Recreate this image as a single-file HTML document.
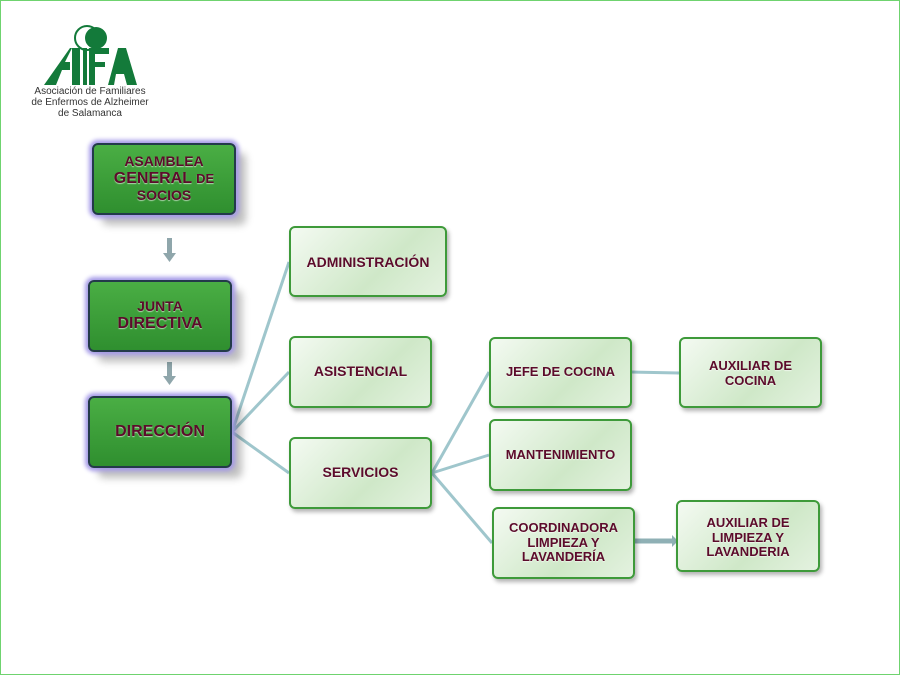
<!DOCTYPE html>
<html><head><meta charset="utf-8"><style>
body{margin:0;width:900px;height:675px;background:#fff;position:relative;overflow:hidden;font-family:"Liberation Sans",sans-serif}
.frame{position:absolute;left:0;top:0;width:898px;height:673px;border:1px solid #6fd36f}
.b{position:absolute;box-sizing:border-box;border-radius:6px;display:flex;align-items:center;justify-content:center;text-align:center;font-weight:bold;color:#5c0b2b;line-height:1.12;text-shadow:0 1px 1px rgba(255,255,255,.6)}
.d{background:linear-gradient(#4aae44,#2f8f2f);border:2px solid #233a4a;box-shadow:0 0 4px 3px #a59ae8,10px 10px 8px rgba(0,0,0,.25);font-size:14px}
.l{background:linear-gradient(135deg,#f4faf2,#cfe8c8 60%,#e4f2e0);border:2px solid #3e9a3a;box-shadow:2px 3px 4px rgba(0,0,0,.3);font-size:13px}
.logo{position:absolute;left:18px;top:87px;width:144px;text-align:center;font-size:10px;color:#333;line-height:1.08}
</style></head><body>
<div class="frame"></div>
<svg width="900" height="675" style="position:absolute;left:0;top:0">
<circle cx="87" cy="38" r="12" fill="#fff" stroke="#137a3a" stroke-width="2"/>
<circle cx="96" cy="38" r="11" fill="#137a3a"/>
<polygon points="44,85 56,85 62,70 70,70 70,62 65,62 72,48 72,85 80,85 80,48 70,48" fill="#137a3a"/>
<rect x="83" y="48" width="4" height="37" fill="#137a3a"/>
<rect x="89" y="48" width="20" height="6" fill="#137a3a"/>
<rect x="89" y="48" width="6" height="37" fill="#137a3a"/>
<rect x="89" y="62" width="16" height="5" fill="#137a3a"/>
<polygon points="108,85 118,48 126,48 137,85 127,85 124,74 116,74 114,85" fill="#137a3a"/>
<g stroke="#9fc6cc" stroke-width="3" fill="none">
<line x1="232" y1="432" x2="289" y2="262"/>
<line x1="232" y1="432" x2="289" y2="372"/>
<line x1="232" y1="432" x2="289" y2="473"/>
<line x1="432" y1="473" x2="489" y2="372"/>
<line x1="432" y1="473" x2="489" y2="455"/>
<line x1="432" y1="473" x2="492" y2="543"/>
<line x1="632" y1="372" x2="679" y2="373"/>
</g>
<line x1="635" y1="541" x2="672" y2="541" stroke="#8fb0b5" stroke-width="5"/>
<polygon points="672,535 678,541 672,547" fill="#8fb0b5"/>
<g fill="#8fa6ab"><rect x="167" y="238" width="5" height="16"/><polygon points="163,253 176,253 169.5,262"/>
<rect x="167" y="362" width="5" height="15"/><polygon points="163,376 176,376 169.5,385"/></g>
</svg>
<div class="logo">Asociación de Familiares<br>de Enfermos de Alzheimer<br>de Salamanca</div>
<div class="b d" style="left:92px;top:143px;width:144px;height:72px"><div>ASAMBLEA<br><span style="font-size:16px">GENERAL <span style="font-size:13px">DE</span></span><br>SOCIOS</div></div>
<div class="b d" style="left:88px;top:280px;width:144px;height:72px"><div>JUNTA<br><span style="font-size:16px">DIRECTIVA</span></div></div>
<div class="b d" style="left:88px;top:396px;width:144px;height:72px;font-size:16px"><div>DIRECCIÓN</div></div>
<div class="b l" style="left:289px;top:226px;width:158px;height:71px;font-size:14px;align-items:flex-start;padding-top:27px"><div>ADMINISTRACIÓN</div></div>
<div class="b l" style="left:289px;top:336px;width:143px;height:72px;font-size:14px"><div>ASISTENCIAL</div></div>
<div class="b l" style="left:289px;top:437px;width:143px;height:72px;font-size:14px"><div>SERVICIOS</div></div>
<div class="b l" style="left:489px;top:337px;width:143px;height:71px"><div>JEFE DE COCINA</div></div>
<div class="b l" style="left:489px;top:419px;width:143px;height:72px"><div>MANTENIMIENTO</div></div>
<div class="b l" style="left:492px;top:507px;width:143px;height:72px"><div>COORDINADORA<br>LIMPIEZA Y<br>LAVANDERÍA</div></div>
<div class="b l" style="left:679px;top:337px;width:143px;height:71px;align-items:flex-start;padding-top:20px"><div>AUXILIAR DE<br>COCINA</div></div>
<div class="b l" style="left:676px;top:500px;width:144px;height:72px;align-items:flex-start;padding-top:14px"><div>AUXILIAR DE<br>LIMPIEZA Y<br>LAVANDERIA</div></div>
</body></html>
